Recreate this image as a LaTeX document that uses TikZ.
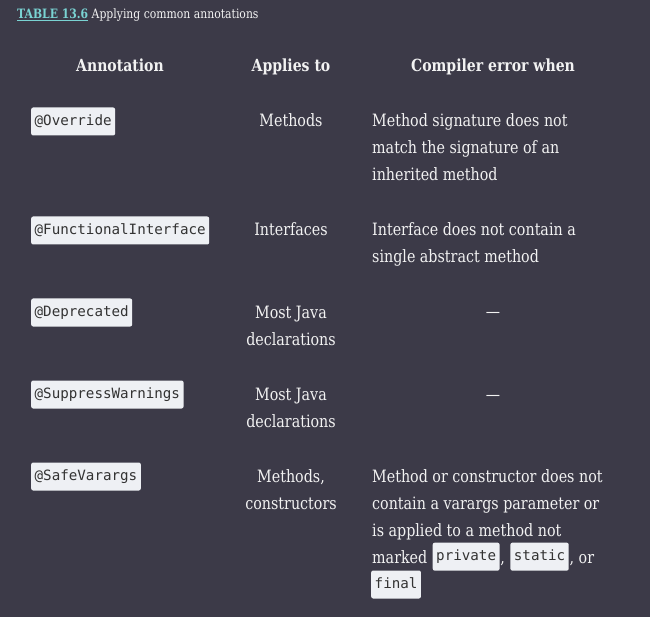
\documentclass[tikz,border=0pt]{standalone}
\usepackage{fontspec}
\setmainfont{DejaVu Serif}[FakeStretch=0.84]
\setmonofont{DejaVu Sans Mono}
\usetikzlibrary{positioning}
\definecolor{pagebg}{HTML}{3C3A48}
\definecolor{txt}{HTML}{F2F2F2}
\definecolor{teal}{HTML}{7AD3D3}
\definecolor{codebg}{HTML}{EEF0F4}
\definecolor{codefg}{HTML}{333333}
\newcommand{\bodyfont}{\fontsize{17}{27}\selectfont}
\newcommand{\headfont}{\fontsize{16.7}{27}\selectfont\bfseries}
\newcommand{\codefont}{\fontsize{14.2}{16}\selectfont\ttfamily}

\begin{document}
\begin{tikzpicture}[
    x=1pt, y=-1pt,
    head/.style={font=\headfont, text=txt, anchor=base, inner sep=0pt},
    cell/.style={font=\bodyfont, text=txt, align=center, anchor=base, inner sep=0pt},
    desc/.style={font=\bodyfont, text=txt, align=left, anchor=base west, inner sep=0pt},
    code/.style={fill=codebg, text=codefg, font=\codefont, rounded corners=2pt,
        inner xsep=3.5pt, inner ysep=0pt, text height=11pt, text depth=3.5pt,
        minimum height=28pt, anchor=west}
]
    \fill[pagebg] (0,0) rectangle (650,617);
    \useasboundingbox (0,0) rectangle (650,617);

    % Caption
    \node[anchor=base west, inner sep=0pt, font=\fontsize{12.9}{15}\selectfont, text=txt] (caption) at (17,19)
        {\textcolor{teal}{\bfseries\underline{TABLE 13.6}} Applying common annotations};

    % Column heads
    \node[head] (hann) at (120,72) {Annotation};
    \node[head] (happ) at (291,72) {Applies to};
    \node[head] (herr) at (493,72) {Compiler error when};

    % Row: @Override (multi-line nodes sit on their last baseline)
    \node[code] (override) at (31,121.5) {@Override};
    \node[cell] (app1) at (291,127) {Methods};
    \node[desc] (err1) at (372,181) {Method signature does not\\match the signature of an\\inherited method};

    % Row: @FunctionalInterface
    \node[code] (funcint) at (31,230.5) {@FunctionalInterface};
    \node[cell] (app2) at (291,236) {Interfaces};
    \node[desc] (err2) at (372,263) {Interface does not contain a\\single abstract method};

    % Row: @Deprecated
    \node[code] (deprec) at (31,312.5) {@Deprecated};
    \node[cell] (app3) at (291,345) {Most Java\\declarations};
    \node[cell] (err3) at (493,318) {---};

    % Row: @SuppressWarnings
    \node[code] (suppress) at (31,394.5) {@SuppressWarnings};
    \node[cell] (app4) at (291,427) {Most Java\\declarations};
    \node[cell] (err4) at (493,400) {---};

    % Row: @SafeVarargs
    \node[code] (safevar) at (31,476.5) {@SafeVarargs};
    \node[cell] (app5) at (291,509) {Methods,\\constructors};
    \node[desc] (err5) at (372,536) {Method or constructor does not\\contain a varargs parameter or\\is applied to a method not};
    \node[desc] (marked) at (372,563) {marked};
    \node[code, right=5pt of marked.east] (private) {private};
    \node[desc] (comma) at ([xshift=0.5pt]private.east |- marked.base) {,};
    \node[code, right=5pt of comma.east |- private.east] (static) {static};
    \node[desc] (or) at ([xshift=0.5pt]static.east |- marked.base) {, or};
    \node[code] (final) at (371,584.5) {final};
\end{tikzpicture}
\end{document}
